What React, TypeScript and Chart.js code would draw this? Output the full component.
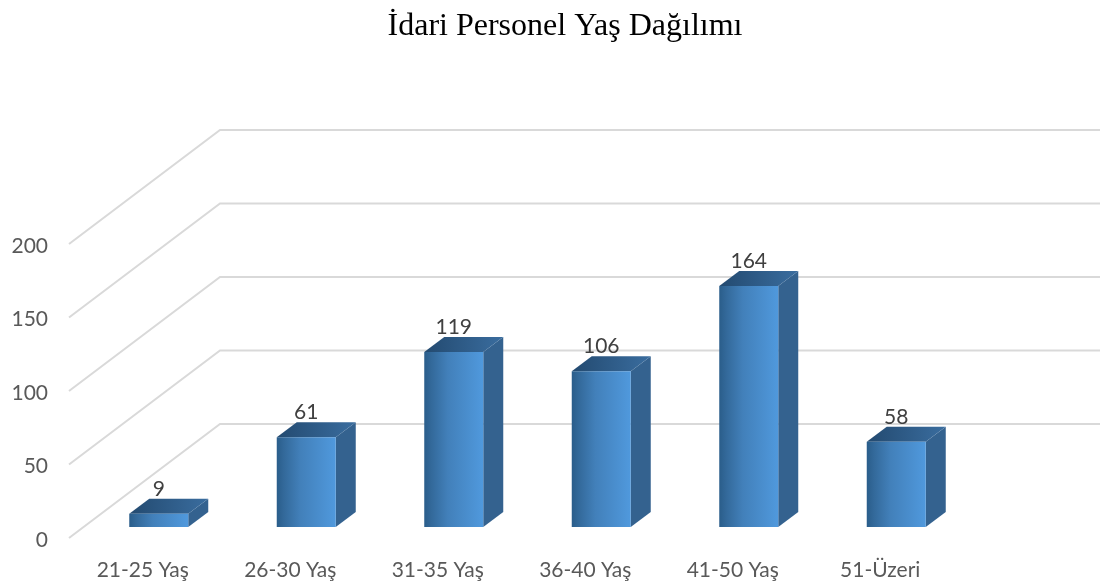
import React, { useEffect, useRef } from "react";
import { Chart, registerables } from "chart.js";

Chart.register(...registerables);

const titleText = "İdari Personel Yaş Dağılımı";
const categories = ["21-25 Yaş", "26-30 Yaş", "31-35 Yaş", "36-40 Yaş", "41-50 Yaş", "51-Üzeri"];
const personnel = [9, 61, 119, 106, 164, 58];
const gridValues = [0, 50, 100, 150, 200];

const FONT = "Lato, 'Open Sans', sans-serif";
const SHIFT_X = 15;
const SHIFT_Y = -11;
const DEPTH_X = 20;
const DEPTH_Y = -15;
const WALL_X = 151;
const WALL_Y = -114;
const BAR_SHARE = 0.4;

const wallPlugin = {
  id: "wall3d",
  afterLayout(chart: any) {
    if (chart.titleBlock) {
      chart.titleBlock.left = 30;
      chart.titleBlock.right = 1100;
    }
  },
  beforeDatasetsDraw(chart: any) {
    const { ctx, scales, chartArea, width } = chart;
    ctx.save();
    ctx.strokeStyle = "#d9d9d9";
    ctx.lineWidth = 2;
    for (const v of gridValues) {
      const y = scales.y.getPixelForValue(v);
      ctx.beginPath();
      ctx.moveTo(chartArea.left - 1, y);
      ctx.lineTo(chartArea.left - 1 + WALL_X, y + WALL_Y);
      ctx.lineTo(width, y + WALL_Y);
      ctx.stroke();
    }
    ctx.restore();
  },
  beforeDatasetDraw(chart: any, args: any) {
    const { ctx } = chart;
    const meta = chart.getDatasetMeta(args.index);
    ctx.save();
    ctx.translate(SHIFT_X, SHIFT_Y);
    meta.data.forEach((bar: any) => {
      const half = bar.width / 2;
      const l = bar.x - half;
      const r = bar.x + half;
      const t = bar.y;
      const b = bar.base;
      // side face
      ctx.fillStyle = "#34628f";
      ctx.beginPath();
      ctx.moveTo(r, t);
      ctx.lineTo(r + DEPTH_X, t + DEPTH_Y);
      ctx.lineTo(r + DEPTH_X, b + DEPTH_Y);
      ctx.lineTo(r, b);
      ctx.closePath();
      ctx.fill();
      // top face
      const g = ctx.createLinearGradient(l, 0, r + DEPTH_X, 0);
      g.addColorStop(0, "#234a70");
      g.addColorStop(1, "#3a6d9f");
      ctx.fillStyle = g;
      ctx.beginPath();
      ctx.moveTo(l, t);
      ctx.lineTo(l + DEPTH_X, t + DEPTH_Y);
      ctx.lineTo(r + DEPTH_X, t + DEPTH_Y);
      ctx.lineTo(r, t);
      ctx.closePath();
      ctx.fill();
    });
  },
  afterDatasetDraw(chart: any, args: any) {
    const { ctx } = chart;
    const meta = chart.getDatasetMeta(args.index);
    const values = chart.data.datasets[args.index].data;
    ctx.restore();
    ctx.save();
    ctx.fillStyle = "#404040";
    ctx.font = `21px ${FONT}`;
    ctx.textAlign = "center";
    ctx.textBaseline = "middle";
    meta.data.forEach((bar: any, i: number) => {
      ctx.fillText(String(values[i]), bar.x + SHIFT_X, bar.y + SHIFT_Y + DEPTH_Y - 10);
    });
    ctx.restore();
  },
};

export default function App() {
  const ref = useRef<HTMLCanvasElement>(null);
  useEffect(() => {
    document.body.style.margin = "0";
    const chart = new Chart(ref.current!, {
      type: "bar",
      data: {
        labels: categories,
        datasets: [
          {
            label: "İdari Personel",
            data: personnel,
            barPercentage: BAR_SHARE,
            categoryPercentage: 1,
            clip: false,
            backgroundColor: (c: any) => {
              const xs = c.chart.scales?.x;
              if (!xs || c.dataIndex === undefined) return "#4a8fd0";
              const cx = xs.getPixelForValue(c.dataIndex);
              const half = (xs.width / categories.length) * BAR_SHARE / 2;
              if (!Number.isFinite(cx) || !Number.isFinite(half)) return "#4a8fd0";
              const g = c.chart.ctx.createLinearGradient(cx - half, 0, cx + half, 0);
              g.addColorStop(0, "#2a5d8a");
              g.addColorStop(0.12, "#33699a");
              g.addColorStop(0.4, "#4280ba");
              g.addColorStop(1, "#5099dd");
              return g;
            },
            borderWidth: 0,
          },
        ],
      },
      options: {
        animation: false,
        responsive: false,
        layout: { padding: { left: 0, right: 145, top: 0, bottom: 0 } },
        plugins: {
          legend: { display: false },
          tooltip: { enabled: false },
          title: {
            display: true,
            text: titleText,
            color: "#000000",
            font: { family: "'Liberation Serif', serif", size: 32, weight: "normal" },
            padding: { top: 7, bottom: 198.6 },
          },
        },
        scales: {
          x: {
            grid: { display: false },
            border: { display: false },
            ticks: { color: "#595959", font: { family: FONT, size: 21 }, padding: 12, maxRotation: 0, labelOffset: -1 },
            afterFit: (s: any) => {
              s.height = 49;
            },
          },
          y: {
            min: 0,
            max: 200,
            grid: { display: false },
            border: { display: false },
            ticks: { stepSize: 50, color: "#595959", font: { family: FONT, size: 21 }, padding: 14, labelOffset: 2 },
            afterFit: (s: any) => {
              s.width = 70;
            },
          },
        },
      },
      plugins: [wallPlugin],
    } as any);
    return () => chart.destroy();
  }, []);
  return (
    <div style={{ width: 1100, height: 587 }}>
      <canvas ref={ref} width={1100} height={587} style={{ display: "block" }} />
    </div>
  );
}
